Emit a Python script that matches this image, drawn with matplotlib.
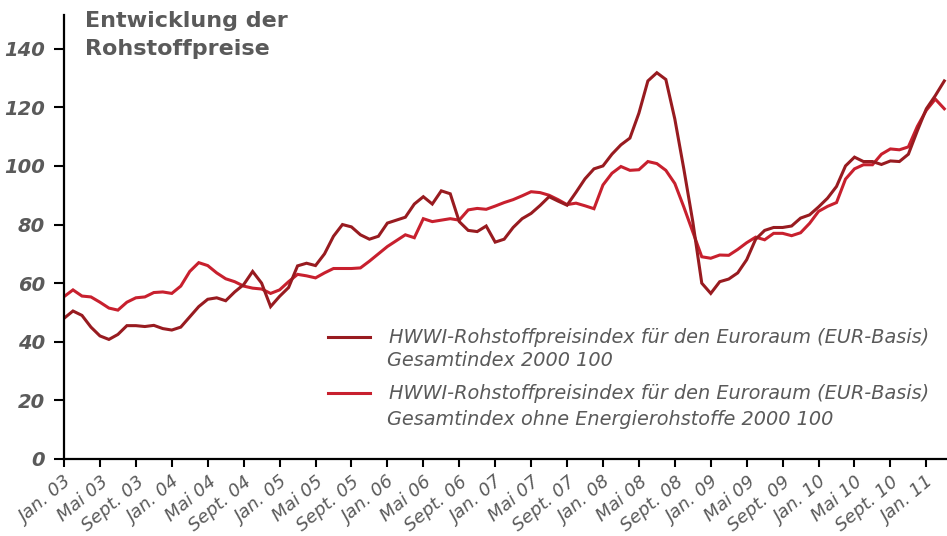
import numpy as np
import matplotlib
matplotlib.use("Agg")
import matplotlib.pyplot as plt
from matplotlib.transforms import ScaledTranslation

# Monatswerte Jan. 2003 bis Maerz 2011 (Index 2000 = 100)
gesamt = [48, 50.5, 49, 45, 42, 40.8, 42.5, 45.5, 45.5, 45.2,
          45.6, 44.5, 44, 45, 48.5, 52, 54.5, 55, 54, 57,
          59.5, 64, 60, 52, 55.5, 58.5, 65.9, 66.8, 66, 70,
          76, 80, 79.2, 76.5, 75, 76, 80.5, 81.5, 82.5, 87,
          89.5, 87, 91.5, 90.5, 81, 78, 77.6, 79.5, 74, 75,
          79, 82, 83.8, 86.5, 89.5, 88, 86.6, 91, 95.6, 99,
          100, 104, 107.2, 109.5, 118, 129, 131.8, 129.5, 116, 99,
          81, 60, 56.5, 60.5, 61.4, 63.5, 68, 75, 78, 79,
          79, 79.5, 82.2, 83.3, 86, 89, 93, 100, 103, 101.5,
          101.5, 100.5, 101.7, 101.5, 104, 112, 119.5, 124, 129]

ohne_energie = [55.4, 57.7, 55.6, 55.3, 53.5, 51.5, 50.8, 53.5, 55, 55.3,
                56.8, 57, 56.5, 59, 64, 67, 66, 63.5, 61.5, 60.5,
                59, 58.3, 58, 56.5, 57.7, 60.5, 63, 62.5, 61.8, 63.5,
                65, 65, 65, 65.2, 67.5, 70, 72.5, 74.5, 76.5, 75.5,
                82, 81, 81.5, 82, 81.5, 85, 85.5, 85.2, 86.3, 87.5,
                88.5, 89.8, 91.2, 90.9, 90, 88.5, 86.8, 87.3, 86.4, 85.4,
                93.5, 97.5, 99.8, 98.5, 98.7, 101.5, 100.8, 98.5, 94, 86,
                77.5, 69, 68.5, 69.6, 69.5, 71.5, 73.8, 75.7, 74.8, 77,
                77, 76.2, 77.2, 80.4, 84.5, 86.2, 87.5, 95.5, 99, 100.4,
                100.4, 104, 105.8, 105.5, 106.5, 113.5, 119, 122.8, 119.5]

monate = ["Jan.", "Mai", "Sept."]
jahre = list(range(3, 12))
tick_labels = [f"{m} {j:02d}" for j in jahre for m in monate][:25]

label_gesamt = ["HWWI-Rohstoffpreisindex für den Euroraum (EUR-Basis)",
                "Gesamtindex 2000 100"]
label_ohne = ["HWWI-Rohstoffpreisindex für den Euroraum (EUR-Basis)",
              "Gesamtindex ohne Energierohstoffe 2000 100"]

dunkelrot = "#981b20"
rot = "#c8202e"
grau = "#5a5a5a"

fig = plt.figure(figsize=(9.47, 5.36), dpi=100)
ax = fig.add_axes([64 / 947, 1 - 459 / 536, 883 / 947, 444 / 536])

x = np.arange(len(gesamt))
ax.plot(x, ohne_energie, color=rot, lw=2.2, solid_joinstyle="miter")
ax.plot(x, gesamt, color=dunkelrot, lw=2.2, solid_joinstyle="miter")

ax.set_xlim(0, 98.3)
ax.set_ylim(0, 151.5)
ax.set_yticks(range(0, 141, 20))
ax.set_xticks(range(0, 97, 4))
ax.set_xticklabels(tick_labels, rotation=40, ha="right", va="top",
                   rotation_mode="anchor", fontsize=13, style="italic",
                   color=grau)
verschiebung = ScaledTranslation(0.07, -0.08, fig.dpi_scale_trans)
for lab in ax.get_xticklabels():
    lab.set_transform(lab.get_transform() + verschiebung)
for lab in ax.get_yticklabels():
    lab.set_fontweight("bold")
    lab.set_fontstyle("italic")
    lab.set_color(grau)
    lab.set_fontsize(14)

ax.spines["top"].set_visible(False)
ax.spines["right"].set_visible(False)
ax.spines["left"].set_linewidth(1.6)
ax.spines["bottom"].set_linewidth(1.6)
ax.tick_params(axis="y", length=7.5, width=1.5, pad=6)
ax.tick_params(axis="x", length=6, width=1.5, pad=4)

# Titel
ax.text(0.024, 1.008, "Entwicklung der\nRohstoffpreise", transform=ax.transAxes,
        ha="left", va="top", fontsize=16, fontweight="bold", color=grau,
        linespacing=1.5)

# Legende
for y1, y2, farbe, labels in [(0.274, 0.221, dunkelrot, label_gesamt),
                              (0.1486, 0.088, rot, label_ohne)]:
    ax.plot([0.299, 0.3466], [y1, y1], color=farbe, lw=2.2,
            transform=ax.transAxes, clip_on=False)
    ax.text(0.368, y1, labels[0], transform=ax.transAxes, ha="left",
            va="center", fontsize=13.9, style="italic", color=grau)
    ax.text(0.366, y2, labels[1], transform=ax.transAxes, ha="left",
            va="center", fontsize=13.9, style="italic", color=grau)

fig.savefig("out.png", dpi=100)
